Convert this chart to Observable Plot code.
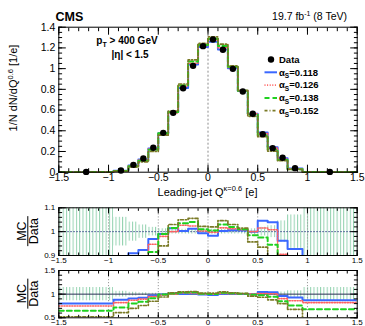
<!DOCTYPE html>
<html><head><meta charset="utf-8">
<script src="https://cdn.jsdelivr.net/npm/d3@7"></script>
<script src="https://cdn.jsdelivr.net/npm/@observablehq/plot@0.6"></script>
<style>
body{margin:0;background:#fff;}
#chart{position:relative;width:365px;height:326px;overflow:hidden;}
#chart svg{position:absolute;left:0;}
</style></head><body><div id="chart"></div>
<script>
// ---------- data ----------
const binEdges = [-1.5,-0.95,-0.8,-0.7,-0.6,-0.5,-0.4,-0.3,-0.2,-0.1,0,0.1,0.2,0.3,0.4,0.5,0.6,0.7,0.8,0.95,1.5];
const dataValues = [0.003,0.016,0.071,0.132,0.236,0.380,0.573,0.811,1.027,1.217,1.281,1.182,0.998,0.779,0.564,0.367,0.232,0.139,0.039,0.003];
// MC / Data ratios for each alpha_S
const ratio0118 = [0.80,0.88,0.909,0.923,0.969,0.990,1.014,1.003,1.012,0.993,0.983,1.003,1.006,1.005,1.000,1.046,1.039,0.962,0.927,0.873];
const ratio0126 = [0.75,0.82,0.87,0.895,0.947,0.980,1.000,1.027,1.024,1.003,0.997,1.016,1.012,1.008,1.000,1.015,1.008,0.905,0.86,0.82];
const ratio0138 = [0.65,0.72,0.80,0.84,0.915,0.990,1.015,1.035,1.040,1.010,1.005,1.030,1.020,1.010,0.985,0.975,0.945,0.85,0.76,0.68];
const ratio0152 = [0.52,0.61,0.70,0.76,0.85,0.94,1.030,1.050,1.056,1.022,1.020,1.046,1.030,1.015,0.957,0.935,0.88,0.80,0.68,0.50];
// relative data uncertainty (half width of band)
const dataRelErr = [0.14,0.06,0.04,0.028,0.018,0.012,0.01,0.01,0.01,0.01,0.01,0.01,0.01,0.01,0.012,0.018,0.025,0.045,0.07,0.14];
const alphaLabels = ["0.118","0.126","0.138","0.152"];
const xTickValues = [-1.5,-1,-0.5,0,0.5,1,1.5];
const mainYTickValues = [0,0.2,0.4,0.6,0.8,1,1.2,1.4];
const ratio1YTicks = [0.9,1,1.1];
const ratio2YTicks = [0.5,1,1.5];
const gridX = [-1,-0.5,0,0.5,1];

// ---------- styles ----------
const FONT = "'Liberation Sans', Arial, Helvetica, sans-serif";
const colors = ["#3b68ff","#ff6060","#1fd11f","#7a7a26"];
const dashes = [null,"1,1.6","5,3","3,2,1,2"];
const widths = [2,1.6,2,1.7];

const ratioSeries = [ratio0118, ratio0126, ratio0138, ratio0152];
const nB = dataValues.length;
const fmt = d3.format("~g");
const noLabel = () => "";

function stepPoints(vals){
  const pts = vals.map((v,i)=>({x: binEdges[i], y: v}));
  pts.push({x: binEdges[nB], y: vals[nB-1]});
  return pts;
}
const mcValues = ratioSeries.map(r => r.map((q,i)=> q*dataValues[i]));
const dataPoints = dataValues.map((v,i)=>({x:(binEdges[i]+binEdges[i+1])/2, y:v}));
const band = dataRelErr.map((e,i)=>({x1:binEdges[i], x2:binEdges[i+1], y1:1-e, y2:1+e}));

function axesMarks({yMajor, yMinor, xMajLen, xMinLen, yMajLen, yMinLen, fs, xPad, yPad}){
  const xMinor = d3.range(-15,16).map(d=>d/10);
  return [
    Plot.axisX(xTickValues,{anchor:"bottom",tickSize:-xMajLen,tickFormat:noLabel,label:null}),
    Plot.axisX(xTickValues,{anchor:"top",tickSize:-xMajLen,tickFormat:noLabel,label:null}),
    Plot.axisX(xMinor,{anchor:"bottom",tickSize:-xMinLen,tickFormat:noLabel,label:null}),
    Plot.axisX(xMinor,{anchor:"top",tickSize:-xMinLen,tickFormat:noLabel,label:null}),
    Plot.axisY(yMajor,{anchor:"left",tickSize:-yMajLen,tickFormat:noLabel,label:null}),
    Plot.axisY(yMajor,{anchor:"right",tickSize:-yMajLen,tickFormat:noLabel,label:null}),
    Plot.axisY(yMinor,{anchor:"left",tickSize:-yMinLen,tickFormat:noLabel,label:null}),
    Plot.axisY(yMinor,{anchor:"right",tickSize:-yMinLen,tickFormat:noLabel,label:null}),
    Plot.axisX(xTickValues,{anchor:"bottom",tickSize:0,tickPadding:xPad,tickFormat:fmt,fontSize:fs,label:null,fill:"#000"}),
    Plot.axisY(yMajor,{anchor:"left",tickSize:0,tickPadding:yPad,tickFormat:fmt,fontSize:fs,label:null,fill:"#000"})
  ];
}

const root = document.getElementById("chart");

// ---------- main plot ----------
const main = Plot.plot({
  width:365, height:200,
  marginLeft:58.3, marginRight:8.3, marginTop:26.7, marginBottom:28.3,
  style:{fontFamily:FONT, background:"transparent", color:"#000"},
  x:{domain:[-1.5,1.5]},
  y:{domain:[0,1.4]},
  marks:[
    Plot.ruleX([0],{stroke:"#8c8c8c",strokeDasharray:"2,2",strokeWidth:1}),
    ...mcValues.map((vals,k)=>Plot.line(stepPoints(vals),{x:"x",y:"y",curve:"step-after",stroke:colors[k],strokeWidth:widths[k],strokeDasharray:dashes[k]})),
    Plot.dot(dataPoints,{x:"x",y:"y",r:3.2,fill:"#000"}),
    Plot.frame({stroke:"#000"}),
    ...axesMarks({yMajor:mainYTickValues, yMinor:d3.range(0,29).map(d=>d*0.05), xMajLen:7, xMinLen:3.5, yMajLen:7.5, yMinLen:3.8, fs:10.5, xPad:1.5, yPad:3.5})
  ]
});
main.style.top = "0px";
root.appendChild(main);

// annotations on main plot
{
  const s = d3.select(main).append("g").attr("font-family",FONT).attr("fill","#000").attr("text-anchor","start");
  s.append("text").attr("x",55.5).attr("y",20.5).attr("font-weight","bold").attr("font-size",12.5).text("CMS");
  const lumi = s.append("text").attr("x",347).attr("y",20).attr("text-anchor","end").attr("font-size",10.5);
  lumi.append("tspan").text("19.7 fb");
  lumi.append("tspan").attr("font-size",7).attr("dy",-4.5).text("-1");
  lumi.append("tspan").attr("dy",4.5).text(" (8 TeV)");
  const pt = s.append("text").attr("x",127).attr("y",43.5).attr("text-anchor","middle").attr("font-size",10).attr("font-weight","bold");
  pt.append("tspan").text("p");
  pt.append("tspan").attr("font-size",7).attr("dy",3).text("T");
  pt.append("tspan").attr("dy",-3).text(" > 400 GeV");
  s.append("text").attr("x",130).attr("y",58).attr("text-anchor","middle").attr("font-size",10).attr("font-weight","bold").text("|η| < 1.5");
  // legend
  const rows = [59.5,72.3,85.1,97.9,110.7];
  s.append("circle").attr("cx",271).attr("cy",rows[0]).attr("r",3.2).attr("fill","#000");
  s.append("text").attr("x",279).attr("y",rows[0]+3.3).attr("font-size",9.5).attr("font-weight","bold").text("Data");
  alphaLabels.forEach((a,k)=>{
    const y = rows[k+1];
    s.append("line").attr("x1",264.5).attr("x2",277).attr("y1",y).attr("y2",y)
      .attr("stroke",colors[k]).attr("stroke-width",widths[k]).attr("stroke-dasharray",dashes[k]);
    const t = s.append("text").attr("x",279).attr("y",y+3.3).attr("font-size",9.5).attr("font-weight","bold");
    t.append("tspan").text("α");
    t.append("tspan").attr("font-size",6.5).attr("dy",2.5).text("S");
    t.append("tspan").attr("dy",-2.5).text("="+a);
  });
  // axis titles
  const xt = s.append("text").attr("x",207.5).attr("y",195.5).attr("text-anchor","middle").attr("font-size",11);
  xt.append("tspan").text("Leading-jet Q");
  xt.append("tspan").attr("font-size",7.5).attr("dy",-4.5).text("κ=0.6");
  xt.append("tspan").attr("dy",4.5).text(" [e]");
  const yt = s.append("text").attr("transform","translate(17,88) rotate(-90)").attr("text-anchor","middle").attr("font-size",11);
  yt.append("tspan").text("1/N dN/dQ");
  yt.append("tspan").attr("font-size",7.5).attr("dy",-4.5).text("0.6");
  yt.append("tspan").attr("dy",4.5).text(" [1/e]");
}

// ---------- ratio panels ----------
function ratioPanel({top,height,mt,mb,yDomain,yMajor,yMinor,hatchId,unityStroke,unityDash}){
  const svg = Plot.plot({
    width:365, height,
    marginLeft:58.3, marginRight:8.3, marginTop:mt, marginBottom:mb,
    style:{fontFamily:FONT, background:"transparent", color:"#000", overflow:"visible"},
    x:{domain:[-1.5,1.5]},
    y:{domain:yDomain},
    marks:[
      Plot.rect(band,{x1:"x1",x2:"x2",y1:"y1",y2:"y2",fill:`url(#${hatchId})`,clip:true}),
      Plot.ruleX(gridX,{stroke:"#9a9a9a",strokeDasharray:"1.2,1.8",strokeWidth:1}),
      Plot.ruleY([1],{stroke:unityStroke,strokeDasharray:unityDash,strokeWidth:1}),
      ...ratioSeries.map((vals,k)=>Plot.line(stepPoints(vals),{x:"x",y:"y",curve:"step-after",stroke:colors[k],strokeWidth:widths[k],strokeDasharray:dashes[k],clip:true})),
      Plot.frame({stroke:"#000"}),
      ...axesMarks({yMajor, yMinor, xMajLen:5, xMinLen:2.5, yMajLen:7.5, yMinLen:3.8, fs:8, xPad:1.5, yPad:3.5})
    ]
  });
  svg.style.top = top+"px";
  root.appendChild(svg);
  const s = d3.select(svg);
  const pat = s.insert("defs",":first-child").append("pattern").attr("id",hatchId)
    .attr("patternUnits","userSpaceOnUse").attr("width",3.3).attr("height",6);
  pat.append("rect").attr("x",0).attr("y",0).attr("width",1).attr("height",6).attr("fill","#93d2b0");
  const cy = mt + (height-mt-mb)/2;
  const g = s.append("g").attr("font-family",FONT).attr("font-size",12.5).attr("fill","#000");
  g.append("text").attr("transform",`translate(26,${cy}) rotate(-90)`).attr("text-anchor","middle").text("MC");
  g.append("line").attr("x1",27.8).attr("x2",27.8).attr("y1",cy-15).attr("y2",cy+15).attr("stroke","#000").attr("stroke-width",1);
  g.append("text").attr("transform",`translate(38,${cy}) rotate(-90)`).attr("text-anchor","middle").text("Data");
  return svg;
}

ratioPanel({top:200,height:66,mt:7.3,mb:11,yDomain:[0.9,1.1],yMajor:ratio1YTicks,
  yMinor:d3.range(0,11).map(d=>0.9+d*0.02),hatchId:"hatchA",unityStroke:"#3a4a8a",unityDash:"1.5,1.5"});
ratioPanel({top:264,height:62,mt:6,mb:8.7,yDomain:[0.5,1.5],yMajor:ratio2YTicks,
  yMinor:d3.range(0,11).map(d=>0.5+d*0.1),hatchId:"hatchB",unityStroke:"#2a2f55",unityDash:null});
</script></body></html>
